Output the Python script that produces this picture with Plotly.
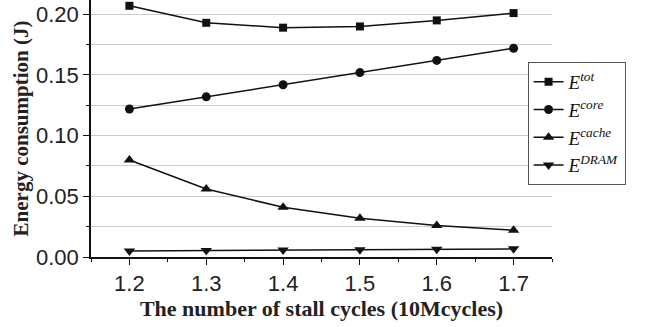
import plotly.graph_objects as go

stall_cycles = [1.2, 1.3, 1.4, 1.5, 1.6, 1.7]
e_tot = [0.207, 0.193, 0.189, 0.190, 0.195, 0.201]
e_core = [0.122, 0.132, 0.142, 0.152, 0.162, 0.172]
e_cache = [0.080, 0.056, 0.041, 0.032, 0.026, 0.022]
e_dram = [0.005, 0.0053, 0.0057, 0.006, 0.0063, 0.0067]

series_names = ["<i>E</i><sup><i>tot</i></sup>", "<i>E</i><sup><i>core</i></sup>",
                "<i>E</i><sup><i>cache</i></sup>", "<i>E</i><sup><i>DRAM</i></sup>"]
series_values = [e_tot, e_core, e_cache, e_dram]
symbols = ["square", "circle", "triangle-up", "triangle-down"]
sizes = [8, 9, 10, 10]

fig = go.Figure()
for name, vals, sym, sz in zip(series_names, series_values, symbols, sizes):
    fig.add_trace(go.Scatter(
        x=stall_cycles, y=vals, name=name, mode="lines+markers",
        line=dict(color="#111111", width=1.5),
        marker=dict(symbol=sym, size=sz, color="#111111"),
    ))

fig.update_layout(
    width=652, height=327,
    margin=dict(l=91, r=100, t=0, b=70),
    paper_bgcolor="white", plot_bgcolor="white",
    showlegend=True,
    legend=dict(
        x=0.947, y=0.759, xanchor="left", yanchor="top",
        bordercolor="#555555", borderwidth=1, bgcolor="white",
        font=dict(family="Liberation Serif", size=19, color="#111111"),
        tracegroupgap=0, itemwidth=30,
    ),
    xaxis=dict(
        range=[1.15, 1.75], tickvals=stall_cycles,
        ticktext=["1.2", "1.3", "1.4", "1.5", "1.6", "1.7"],
        showgrid=False, showline=True, linecolor="#111111", linewidth=1.5,
        ticks="outside", ticklen=6, tickwidth=1.2, tickcolor="#111111",
        minor=dict(dtick=0.05, tick0=1.15, ticks="outside", ticklen=3, tickcolor="#111111", showgrid=False),
        tickfont=dict(family="Liberation Sans", size=22, color="#222222"),
        title=dict(text="<b>The number of stall cycles (10Mcycles)</b>",
                   font=dict(family="Liberation Serif", size=22, color="#222222"), standoff=2),
        zeroline=False, automargin=False,
    ),
    yaxis=dict(
        range=[0, 0.2118], tickvals=[0, 0.05, 0.10, 0.15, 0.20],
        ticktext=["0.00", "0.05", "0.10", "0.15", "0.20"],
        showgrid=True, gridcolor="#cccccc", gridwidth=1,
        showline=True, linecolor="#111111", linewidth=1.5,
        ticks="outside", ticklen=6, tickwidth=1.2, tickcolor="#111111",
        minor=dict(dtick=0.025, tick0=0, ticks="outside", ticklen=3, tickcolor="#111111",
                   showgrid=True, gridcolor="#cccccc", gridwidth=1),
        tickfont=dict(family="Liberation Sans", size=22, color="#222222"),
        title=dict(text="<b>Energy consumption (J)</b>",
                   font=dict(family="Liberation Serif", size=21, color="#222222"), standoff=2),
        zeroline=False, automargin=False,
    ),
)

fig.write_html("out.html", config={"displayModeBar": False},
               post_script="document.body.style.margin='0';")
